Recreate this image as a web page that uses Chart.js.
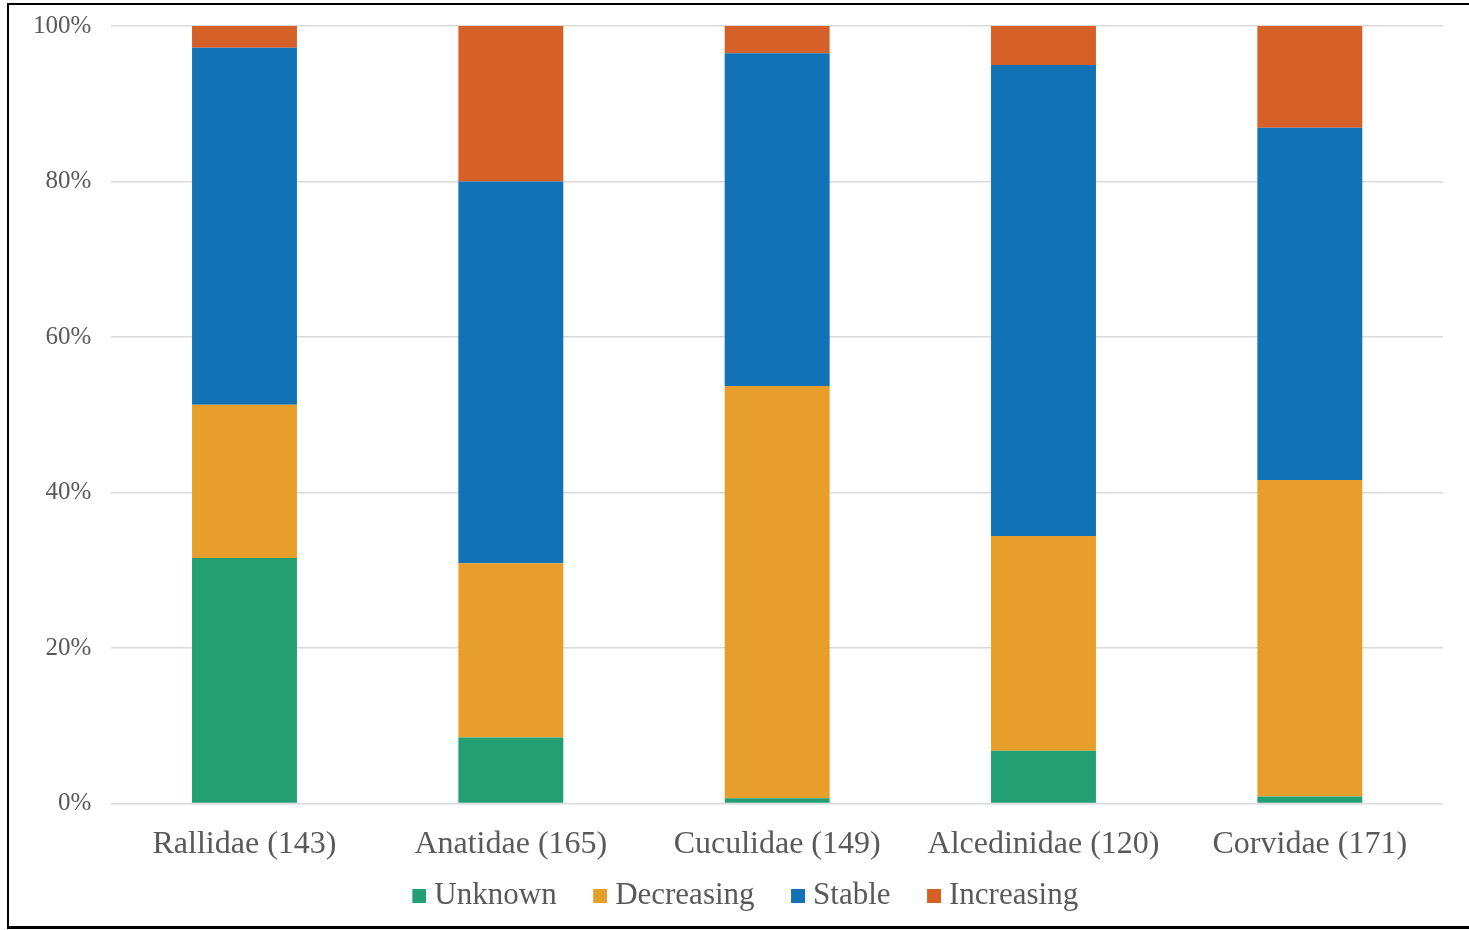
<!DOCTYPE html>
<html>
<head>
<meta charset="utf-8">
<script src="https://cdn.jsdelivr.net/npm/chart.js@4"></script>
<style>
html,body{margin:0;padding:0;background:#fff;}
#wrap{position:absolute;left:0;top:0;width:1469px;height:930px;}
#frame{position:absolute;left:7px;top:3px;width:1480px;height:921px;border-left:2px solid #000;border-top:2px solid #000;border-bottom:3px solid #000;box-sizing:content-box;}
canvas{position:absolute;left:0;top:0;}
</style>
</head>
<body>
<div id="wrap">
<div id="frame"></div>
<canvas id="c" width="1469" height="930"></canvas>
</div>
<script>
const categories = ["Rallidae (143)", "Anatidae (165)", "Cuculidae (149)", "Alcedinidae (120)", "Corvidae (171)"];
const unknown    = [31.6, 8.5, 0.7, 6.8, 0.9];
const decreasing = [19.7, 22.4, 53.0, 27.6, 40.7];
const stable     = [45.9, 49.1, 42.8, 60.6, 45.3];
const increasing = [2.8, 20.0, 3.5, 5.0, 13.1];
const seriesNames = ["Unknown", "Decreasing", "Stable", "Increasing"];
const colors = ["#22a074", "#e89e2a", "#1172b6", "#d66128"];
const yTicks = [0, 20, 40, 60, 80, 100];

const seriesData = [unknown, decreasing, stable, increasing];
const font = "'Liberation Serif', 'Times New Roman', serif";

// legend marker: square placed at the right side of a wider transparent canvas
function marker(color) {
  const c = document.createElement('canvas');
  c.width = 56; c.height = 14;
  const g = c.getContext('2d');
  g.fillStyle = color;
  g.fillRect(42, 0, 14, 14);
  return c;
}

new Chart(document.getElementById('c'), {
  type: 'bar',
  data: {
    labels: categories,
    datasets: seriesNames.map((n, i) => ({
      label: n,
      data: seriesData[i],
      backgroundColor: colors[i],
      borderWidth: 0,
      categoryPercentage: 1,
      barPercentage: 0.394
    }))
  },
  options: {
    responsive: false,
    animation: false,
    devicePixelRatio: 1,
    layout: { padding: { left: 13, right: 26, top: 26, bottom: 9 } },
    plugins: {
      tooltip: { enabled: false },
      legend: {
        position: 'bottom',
        labels: {
          font: { family: font, size: 31 },
          color: '#595959',
          usePointStyle: true,
          pointStyleWidth: 41,
          boxWidth: 41,
          boxHeight: 14,
          padding: 2,
          generateLabels: (chart) => {
            const items = Chart.defaults.plugins.legend.labels.generateLabels(chart);
            items.forEach((it, i) => { it.pointStyle = marker(colors[i]); });
            return items;
          }
        }
      }
    },
    scales: {
      x: {
        stacked: true,
        grid: { display: false },
        border: { display: false },
        ticks: { font: { family: font, size: 32 }, color: '#595959', padding: 14 }
      },
      y: {
        stacked: true,
        min: 0, max: 100,
        afterBuildTicks: (axis) => { axis.ticks = yTicks.map(v => ({ value: v })); },
        grid: { color: '#d9d9d9', lineWidth: 1.5, drawTicks: false },
        border: { display: false },
        ticks: { font: { family: font, size: 25, lineHeight: 0.45 }, color: '#595959', padding: 20, callback: v => v + '%' }
      }
    }
  }
});
</script>
</body>
</html>
